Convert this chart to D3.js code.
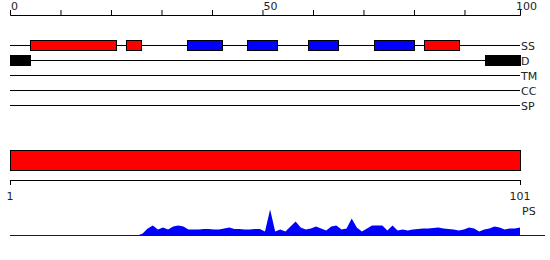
<!DOCTYPE html>
<html>
<head>
<meta charset="utf-8">
<script src="https://cdn.jsdelivr.net/npm/d3@7"></script>
<style>
  body { margin: 0; background: #fff; }
  text { font-family: "DejaVu Sans", sans-serif; font-size: 11px; fill: #222; }
</style>
</head>
<body>
<div id="chart"></div>
<script>
/* Data */
const trackNames = ["SS", "D", "TM", "CC", "SP"]
const helixRanges = [[4, 21], [23, 26], [82, 89]]
const strandRanges = [[35, 42], [47, 53], [59, 65], [72, 80]]
const disorderRanges = [[0, 4], [94, 101]]
const topTickValues = [0, 10, 20, 30, 40, 50, 60, 70, 80, 90]
const topTickLabels = [0, 50, 100]
const seqStart = 1
const seqEnd = 101
const psScores = [
  0, 0, 0, 0, 0, 0, 0, 0, 0, 0,
  0, 0, 0, 0, 0, 0, 0, 0, 0, 0,
  0, 0, 0, 0, 0, 0, 2, 7, 10, 6,
  8, 6, 9, 10, 9, 6, 6, 6, 6.5, 6.5,
  6, 6, 7, 8, 6.5, 6.5, 6, 6, 6.5, 6.5,
  4, 26, 4, 6, 4, 9, 14, 8, 6, 7,
  9, 7, 5, 9, 10, 6, 7, 17, 8, 4,
  7, 10, 10, 10, 5, 10, 5, 6, 5, 6,
  6.5, 7, 7, 7.5, 8, 7, 6.5, 6, 5, 6,
  8, 7, 4, 6, 7, 9, 8, 6, 7, 7,
  8
]

const width = 550
const height = 260

const svg = d3.select("#chart").append("svg")
    .attr("width", width)
    .attr("height", height)

/* Scales */
const xScale = d3.scaleLinear()
    .domain([0, 101])
    .range([10, 520])

const trackScale = d3.scalePoint()
    .domain(trackNames)
    .range([45.5, 105.5])

const resScale = d3.scaleLinear()
    .domain([seqStart, seqEnd])
    .range([10, 520])

const psScale = d3.scaleLinear()
    .domain([0, 30])
    .range([235.5, 205.5])

/* Top axis */
const topAxis = svg.append("g")
    .attr("transform", "translate(0,15)")
    .call(d3.axisTop(xScale)
      .tickValues(topTickValues)
      .tickSizeInner(5)
      .tickSizeOuter(5)
      .tickFormat(""))
topAxis.select(".domain").attr("stroke", "#000")
topAxis.selectAll(".tick line").attr("stroke", "#000")

svg.selectAll(".top-label")
  .data(topTickLabels)
  .enter().append("text")
    .attr("class", "top-label")
    .attr("x", d => xScale(d) + 1)
    .attr("y", 10)
    .text(d => d)

/* Tracks */
svg.selectAll(".track-line")
  .data(trackNames)
  .enter().append("line")
    .attr("x1", xScale(0))
    .attr("x2", xScale(101))
    .attr("y1", d => trackScale(d))
    .attr("y2", d => trackScale(d))
    .attr("stroke", "#000")
    .attr("stroke-width", 1)

svg.selectAll(".track-label")
  .data(trackNames)
  .enter().append("text")
    .attr("x", xScale(101) + 1)
    .attr("y", d => trackScale(d) + 4)
    .text(d => d)

const boxH = 10
function drawBoxes(ranges, track, fill, stroke) {
  svg.append("g").selectAll("rect")
    .data(ranges)
    .enter().append("rect")
      .attr("x", d => Math.round(xScale(d[0])) + 0.5)
      .attr("y", trackScale(track) - boxH / 2)
      .attr("width", d => Math.round(xScale(d[1]) - xScale(d[0])))
      .attr("height", boxH)
      .attr("fill", fill)
      .attr("stroke", stroke)
      .attr("stroke-width", 1)
}
drawBoxes(helixRanges, "SS", "#ff0000", "#000")
drawBoxes(strandRanges, "SS", "#0000ff", "#000")
drawBoxes(disorderRanges, "D", "#000", "#000")

/* Sequence bar */
svg.append("rect")
    .attr("x", resScale(seqStart) + 0.5)
    .attr("y", 150.5)
    .attr("width", resScale(seqEnd) - resScale(seqStart))
    .attr("height", 20)
    .attr("fill", "#ff0000")
    .attr("stroke", "#000")
    .attr("stroke-width", 1)

const bottomAxis = svg.append("g")
    .attr("transform", "translate(0,180)")
    .call(d3.axisBottom(resScale)
      .tickValues([seqStart, seqEnd])
      .tickSizeInner(5)
      .tickSizeOuter(5)
      .tickFormat(""))
bottomAxis.select(".domain").attr("stroke", "#000")
bottomAxis.selectAll(".tick line").attr("stroke", "#000")

svg.selectAll(".seq-label")
  .data([seqStart, seqEnd])
  .enter().append("text")
    .attr("x", d => resScale(d))
    .attr("y", 200)
    .attr("text-anchor", "middle")
    .text(d => d)

svg.append("text")
    .attr("x", 522)
    .attr("y", 215)
    .text("PS")

/* PS area */
const area = d3.area()
    .x((d, i) => resScale(i + seqStart))
    .y0(psScale(0))
    .y1(d => psScale(d))

svg.append("path")
    .datum(psScores)
    .attr("d", area)
    .attr("fill", "#0000ff")

svg.append("line")
    .attr("x1", 10)
    .attr("x2", 545)
    .attr("y1", psScale(0))
    .attr("y2", psScale(0))
    .attr("stroke", "#0000ff")
    .attr("stroke-width", 1)
</script>
</body>
</html>
